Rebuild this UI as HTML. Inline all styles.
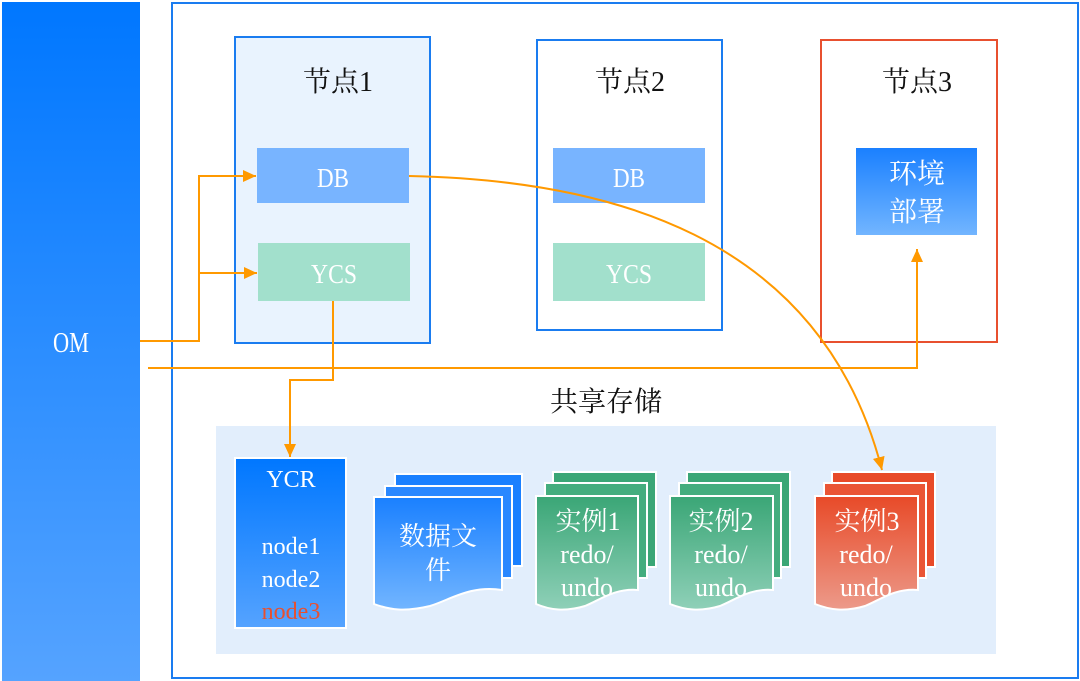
<!DOCTYPE html>
<html><head><meta charset="utf-8"><style>
body{margin:0;width:1080px;height:681px;background:#fff;overflow:hidden;position:relative;font-family:"Liberation Serif","Noto Serif CJK SC",serif}
</style></head><body>
<svg width="1080" height="681" style="position:absolute;left:0;top:0" font-family="Liberation Serif, Noto Serif CJK SC, serif">
<defs>
<linearGradient id="gb" x1="0" y1="0" x2="0" y2="1"><stop offset="0" stop-color="#0077ff"/><stop offset="1" stop-color="#55a3ff"/></linearGradient>
<linearGradient id="gb2" x1="0" y1="0" x2="0" y2="1"><stop offset="0" stop-color="#1a80ff"/><stop offset="1" stop-color="#72b5ff"/></linearGradient>
<linearGradient id="gg" x1="0" y1="0" x2="0" y2="1"><stop offset="0" stop-color="#3aa676"/><stop offset="1" stop-color="#8fd0b8"/></linearGradient>
<linearGradient id="gr" x1="0" y1="0" x2="0" y2="1"><stop offset="0" stop-color="#e84a28"/><stop offset="1" stop-color="#ec9a8a"/></linearGradient>
<marker id="ar" markerWidth="14" markerHeight="14" refX="13" refY="6" orient="auto" markerUnits="userSpaceOnUse"><path d="M0,0 L13,6 L0,12z" fill="#ff9900"/></marker>
</defs>
<rect x="2" y="2" width="138" height="679" fill="url(#gb)"/>
<text x="71" y="352" fill="#fff" font-size="28" text-anchor="middle" textLength="36" lengthAdjust="spacingAndGlyphs">OM</text>
<rect x="172" y="3" width="906" height="675" fill="none" stroke="#1a7cf0" stroke-width="2"/>
<rect x="235" y="37" width="195" height="306" fill="#e9f3fe" stroke="#1a7cf0" stroke-width="2"/>
<text x="338" y="91" font-size="28" text-anchor="middle" fill="#111">节点1</text>
<rect x="257" y="148" width="152" height="55" fill="#78b4ff"/>
<text x="333" y="187" font-size="27" fill="#fff" text-anchor="middle" textLength="32" lengthAdjust="spacingAndGlyphs">DB</text>
<rect x="258" y="243" width="152" height="58" fill="#a2e0cc"/>
<text x="334" y="283" font-size="27" fill="#fff" text-anchor="middle" textLength="46" lengthAdjust="spacingAndGlyphs">YCS</text>
<rect x="537" y="40" width="185" height="290" fill="#fff" stroke="#1a7cf0" stroke-width="2"/>
<text x="630" y="91" font-size="28" text-anchor="middle" fill="#111">节点2</text>
<rect x="553" y="148" width="152" height="55" fill="#78b4ff"/>
<text x="629" y="187" font-size="27" fill="#fff" text-anchor="middle" textLength="32" lengthAdjust="spacingAndGlyphs">DB</text>
<rect x="553" y="243" width="152" height="58" fill="#a2e0cc"/>
<text x="629" y="283" font-size="27" fill="#fff" text-anchor="middle" textLength="46" lengthAdjust="spacingAndGlyphs">YCS</text>
<rect x="821" y="40" width="176" height="302" fill="#fff" stroke="#e8502f" stroke-width="2"/>
<text x="917" y="91" font-size="28" text-anchor="middle" fill="#111">节点3</text>
<rect x="856" y="148" width="121" height="87" fill="url(#gb2)"/>
<text x="917" y="183" font-size="28" fill="#fff" text-anchor="middle">环境</text>
<text x="917" y="221" font-size="28" fill="#fff" text-anchor="middle">部署</text>
<text x="606" y="411" font-size="28" text-anchor="middle" fill="#111">共享存储</text>
<rect x="216" y="426" width="780" height="228" fill="#e2eefc"/>
<rect x="235" y="458" width="111" height="170" fill="url(#gb)" stroke="#fff" stroke-width="2"/>
<text x="291" y="487" font-size="24" fill="#fff" text-anchor="middle">YCR</text>
<text x="291" y="554" font-size="24" fill="#fff" text-anchor="middle">node1</text>
<text x="291" y="587" font-size="24" fill="#fff" text-anchor="middle">node2</text>
<text x="291" y="619" font-size="24" fill="#e8502f" text-anchor="middle">node3</text>
<g stroke="#fff" stroke-width="2">
<rect x="395" y="474" width="127" height="92" fill="#1a80ff"/>
<rect x="385" y="486" width="127" height="92" fill="#2a88ff"/>
<path d="M374,497 H502 V590 C470,585 450,600 430,606 C405,612 390,610 374,604 Z" fill="url(#gb2)"/>
<rect x="553" y="472" width="103" height="95" fill="#3aa676"/>
<rect x="545" y="483" width="102" height="95" fill="#44ad7e"/>
<path d="M536,496 H638 V590 C615,588 600,600 585,606 C565,612 550,610 536,604 Z" fill="url(#gg)"/>
<rect x="687" y="472" width="103" height="95" fill="#3aa676"/>
<rect x="679" y="483" width="102" height="95" fill="#44ad7e"/>
<path d="M670,496 H773 V590 C750,588 735,600 720,606 C700,612 685,610 670,604 Z" fill="url(#gg)"/>
<rect x="832" y="472" width="103" height="95" fill="#e84a28"/>
<rect x="824" y="483" width="102" height="95" fill="#ea5535"/>
<path d="M815,496 H918 V590 C895,588 880,600 865,606 C845,612 830,610 815,604 Z" fill="url(#gr)"/>
</g>
<g font-size="26" fill="#fff" text-anchor="middle">
<text x="438" y="545">数据文</text><text x="438" y="579">件</text>
<text x="588" y="530">实例1</text><text x="587" y="563">redo/</text><text x="587" y="596">undo</text>
<text x="721" y="530">实例2</text><text x="721" y="563">redo/</text><text x="721" y="596">undo</text>
<text x="867" y="530">实例3</text><text x="866" y="563">redo/</text><text x="866" y="596">undo</text>
</g>
<g fill="none" stroke="#ff9900" stroke-width="2">
<path d="M140,341 H199 V176 H256" marker-end="url(#ar)"/>
<path d="M199,273 H257" marker-end="url(#ar)"/>
<path d="M148,368 H917 V249" marker-end="url(#ar)"/>
<path d="M333,301 V380 H290 V457" marker-end="url(#ar)"/>
<path d="M409,176 C600,180 820,230 882,470" marker-end="url(#ar)"/>
</g>
</svg>
</body></html>
